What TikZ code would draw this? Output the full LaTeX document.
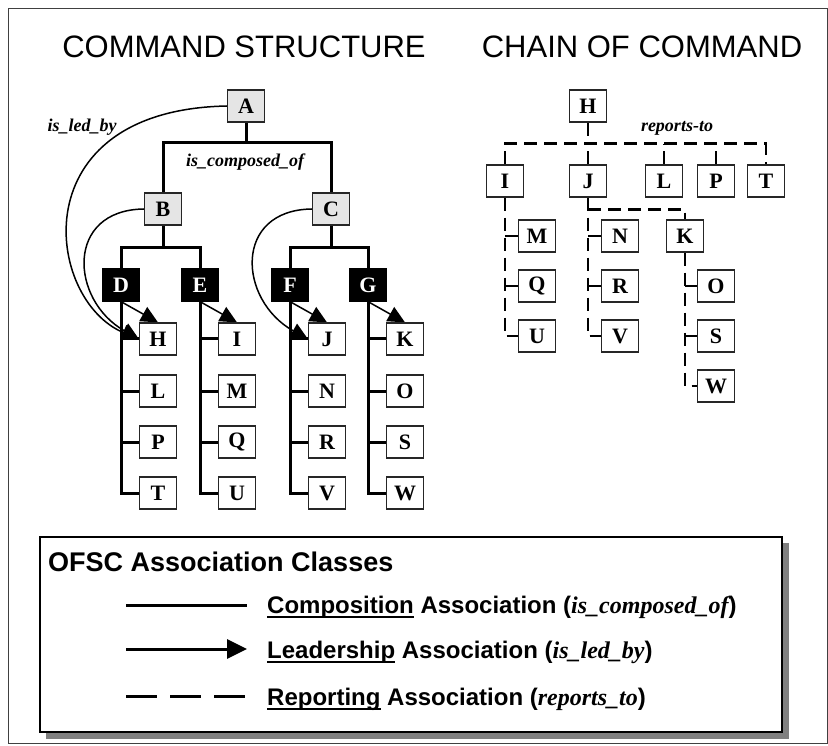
\documentclass[tikz,border=0pt]{standalone}
\usepackage{fontspec}
\setmainfont{Liberation Serif}
\setsansfont{Liberation Sans}
\usetikzlibrary{arrows.meta,backgrounds}
\newcommand{\ulword}[1]{\setbox0=\hbox{#1}\rlap{\copy0}\rule[-5pt]{\wd0}{2pt}}

\tikzset{
	box/.style={draw=black!85, line width=1.2pt, minimum width=37pt, minimum height=32pt, inner sep=0pt, font=\bfseries\fontsize{22}{22}\selectfont},
	leaf/.style={box, fill=white},
	group/.style={box, fill=black!10},
	leader/.style={box, fill=black, draw=black, text=white},
	comp/.style={line width=3pt},
	lead/.style={line width=1.5pt, -{Triangle[length=17pt,width=16pt]}},
	rep/.style={line width=2.6pt, dash pattern=on 13pt off 7pt},
	lbl/.style={font=\bfseries\itshape\fontsize{18}{18}\selectfont},
	legtext/.style={anchor=west, inner sep=0pt, font=\sffamily\bfseries\fontsize{24}{24}\selectfont}
}

\begin{document}
\begin{tikzpicture}[x=1pt, y=-1pt]
		%%%%% START %%%%%
		\useasboundingbox (0,0) rectangle (828,746);
		\draw[black!75, line width=1pt] (8,9) rectangle (827,743);
		
		\node[font=\sffamily\fontsize{31}{31}\selectfont] (title1) at (244,47) {COMMAND STRUCTURE};
		\node[font=\sffamily\fontsize{31}{31}\selectfont] (title2) at (642,47) {CHAIN OF COMMAND};
		
		%%%%% COMMAND STRUCTURE %%%%%
		\node[group] (a) at (246,106) {A};
		\node[group] (b) at (163,209) {B};
		\node[group] (c) at (331,209) {C};
		
		\node[leader] (d) at (121,285) {D};
		\node[leader] (e) at (200,285) {E};
		\node[leader] (f) at (290,285) {F};
		\node[leader] (g) at (368,285) {G};
		
		\node[leaf] (h) at (158,339) {H};
		\node[leaf] (l) at (158,391) {L};
		\node[leaf] (p) at (158,442) {P};
		\node[leaf] (t) at (158,493) {T};
		
		\node[leaf] (i) at (237,339) {I};
		\node[leaf] (m) at (237,391) {M};
		\node[leaf] (q) at (237,442) {Q};
		\node[leaf] (u) at (237,493) {U};
		
		\node[leaf] (j) at (327,339) {J};
		\node[leaf] (n) at (327,391) {N};
		\node[leaf] (r) at (327,442) {R};
		\node[leaf] (v) at (327,493) {V};
		
		\node[leaf] (k) at (405,339) {K};
		\node[leaf] (o) at (405,391) {O};
		\node[leaf] (s) at (405,442) {S};
		\node[leaf] (w) at (405,493) {W};
		
		\node[lbl] (ledby) at (82,127) {is\_led\_by};
		\node[lbl] (composed) at (245,162) {is\_composed\_of};
		
		\begin{pgfonlayer}{background}
		\draw[comp] (a.south) -- ++(0,20) coordinate (abus);
		\draw[comp] (b.north) |- (abus) -| (c.north);
		\draw[comp] (b.south) -- ++(0,22) coordinate (bbus);
		\draw[comp] (d.north) |- (bbus) -| (e.north);
		\draw[comp] (c.south) -- ++(0,22) coordinate (cbus);
		\draw[comp] (f.north) |- (cbus) -| (g.north);
		
		\draw[comp] (d.south) |- (t.west);
		\draw[comp] (d.south |- h.west) -- (h.west);
		\draw[comp] (d.south |- l.west) -- (l.west);
		\draw[comp] (d.south |- p.west) -- (p.west);
		\draw[comp] (e.south) |- (u.west);
		\draw[comp] (e.south |- i.west) -- (i.west);
		\draw[comp] (e.south |- m.west) -- (m.west);
		\draw[comp] (e.south |- q.west) -- (q.west);
		\draw[comp] (f.south) |- (v.west);
		\draw[comp] (f.south |- j.west) -- (j.west);
		\draw[comp] (f.south |- n.west) -- (n.west);
		\draw[comp] (f.south |- r.west) -- (r.west);
		\draw[comp] (g.south) |- (w.west);
		\draw[comp] (g.south |- k.west) -- (k.west);
		\draw[comp] (g.south |- o.west) -- (o.west);
		\draw[comp] (g.south |- s.west) -- (s.west);
		
		\draw[lead] (d.south) -- (h.north);
		\draw[lead] (e.south) -- (i.north);
		\draw[lead] (f.south) -- (j.north);
		\draw[lead] (g.south) -- (k.north);
		\draw[lead] (a.west) .. controls (20,110) and (45,300) .. (h.west);
		\draw[lead] (b.west) .. controls (65,210) and (70,300) .. (h.west);
		\draw[lead] (c.west) .. controls (233,210) and (238,300) .. (j.west);
		\end{pgfonlayer}
		
		%%%%% CHAIN OF COMMAND %%%%%
		\node[leaf] (rh) at (588,106) {H};
		\node[leaf] (ri) at (505,181) {I};
		\node[leaf] (rj) at (588,181) {J};
		\node[leaf] (rl) at (664,181) {L};
		\node[leaf] (rp) at (716,181) {P};
		\node[leaf] (rt) at (766,181) {T};
		\node[leaf] (rm) at (537,236) {M};
		\node[leaf] (rq) at (537,286) {Q};
		\node[leaf] (ru) at (537,336) {U};
		\node[leaf] (rn) at (620,236) {N};
		\node[leaf] (rr) at (620,286) {R};
		\node[leaf] (rv) at (620,336) {V};
		\node[leaf] (rk) at (685,236) {K};
		\node[leaf] (ro) at (716,286) {O};
		\node[leaf] (rs) at (716,336) {S};
		\node[leaf] (rw) at (716,386) {W};
		
		\node[lbl] (reports) at (677,128) {reports-to};
		
		\begin{pgfonlayer}{background}
		\draw[rep] (rh.south) -- ++(0,21) coordinate (rbus);
		\draw[rep] (ri.north) |- (rbus) -| (rt.north);
		\draw[rep] (rj.north) -- (rj.north |- rbus);
		\draw[rep] (rl.north) -- (rl.north |- rbus);
		\draw[rep] (rp.north) -- (rp.north |- rbus);
		
		\draw[rep] (ri.south) |- (ru.west);
		\draw[rep] (ri.south |- rm.west) -- (rm.west);
		\draw[rep] (ri.south |- rq.west) -- (rq.west);
		\draw[rep] (rj.south) |- (rv.west);
		\draw[rep] (rj.south |- rn.west) -- (rn.west);
		\draw[rep] (rj.south |- rr.west) -- (rr.west);
		\draw[rep] (rj.south) ++(0,12) -| (rk.north);
		\draw[rep] (rk.south) |- (rw.west);
		\draw[rep] (rk.south |- ro.west) -- (ro.west);
		\draw[rep] (rk.south |- rs.west) -- (rs.west);
		\end{pgfonlayer}
		
		%%%%% LEGEND %%%%%
		\fill[black!50] (46,543) rectangle (789,739);
		\draw[line width=2pt, fill=white] (40,537) rectangle (782,732);
		\node[legtext, font=\sffamily\bfseries\fontsize{27}{27}\selectfont] (legtitle) at (48,562) {OFSC Association Classes};
		
		\node[legtext] (legcomp) at (267,607) {\ulword{Composition} Association ({\rmfamily\itshape is\_composed\_of})};
		\node[legtext] (leglead) at (267,652) {\ulword{Leadership} Association ({\rmfamily\itshape is\_led\_by})};
		\node[legtext] (legrep) at (267,699) {\ulword{Reporting} Association ({\rmfamily\itshape reports\_to})};
		
		\coordinate (comp0) at (126,605);
		\coordinate (lead0) at (126,649);
		\coordinate (rep0) at (126,696);
		\draw[comp] (comp0) -- ++(121,0);
		\draw[comp, -{Triangle[length=20pt,width=19pt]}] (lead0) -- ++(121,0);
		\draw[comp, dash pattern=on 31pt off 13pt] (rep0) -- ++(121,0);
		%%%%% END %%%%%
\end{tikzpicture}
\end{document}
